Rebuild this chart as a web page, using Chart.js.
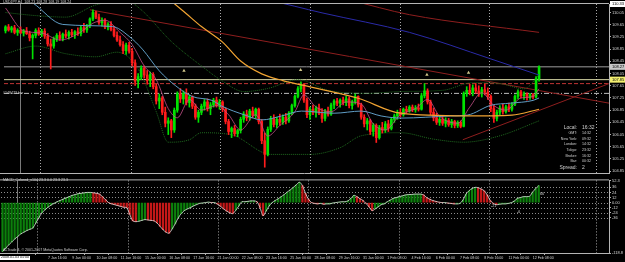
<!DOCTYPE html>
<html>
<head>
<meta charset="utf-8">
<title>USDJPY,H4</title>
<script src="https://cdn.jsdelivr.net/npm/chart.js"></script>
<style>
    body { margin: 0; background: #000; width: 625px; height: 262px; overflow: hidden; position: relative; font-family: 'Liberation Sans', Arial, sans-serif; }
    canvas { position: absolute; left: 0; }
    #main { top: 0; }
    #osc { top: 177px; }
    .t { position: absolute; color: #d0d0d0; font-size: 3.6px; line-height: 1; white-space: nowrap; }
    .big { font-size: 5px; }
    .lbl { right: 48px; text-align: right; }
    .val { left: 582px; }
    .box { background: #fff; color: #000; padding: 0 1px; }
</style>
</head>
<body>
<canvas id="main" width="625" height="177"></canvas>
<canvas id="osc" width="625" height="85"></canvas>

<div class="t" style="left:3px;top:1px">USDJPY,H4&nbsp; 108.23 108.28 108.19 108.24</div>
<div class="t" style="left:3px;top:92px">#148473 bar</div>

<div class="t big lbl" style="top:125px">Local:</div><div class="t big val" style="top:125px">16:32</div>
<div class="t lbl" style="top:132px">GMT:</div><div class="t val" style="top:132px">14:32</div>
<div class="t lbl" style="top:138px">New York:</div><div class="t val" style="top:138px">09:32</div>
<div class="t lbl" style="top:143px">London:</div><div class="t val" style="top:143px">14:32</div>
<div class="t lbl" style="top:149px">Tokyo:</div><div class="t val" style="top:149px">23:32</div>
<div class="t lbl" style="top:155px">Broker:</div><div class="t val" style="top:155px">16:32</div>
<div class="t lbl" style="top:160px">Bar:</div><div class="t val" style="top:160px">00:32</div>
<div class="t big lbl" style="top:165px">Spread:</div><div class="t big val" style="top:165px">2</div>

<div class="t" style="left:3px;top:179px">MACD_Colored_v104 23.3 0.0 23.3 23.3</div>
<div class="t" style="left:491px;top:205px">-21</div>
<div class="t" style="left:517px;top:211px">-6</div>
<div class="t" style="left:540px;top:193px">66</div>
<div class="t" style="left:3px;top:249px">ALTrade 4, © 2001-2007 MetaQuotes Software Corp.</div>
<div class="t box" style="left:0;top:256px">2008.01.03 05:00</div>

<script>
// H4 bars: [open, high, low, close]
const candles = [
    [109.45,109.62,109.38,109.58],[109.58,109.66,109.44,109.48],[109.48,109.60,109.40,109.55],[109.55,109.63,109.35,109.40],
    [109.40,109.52,109.30,109.47],[109.47,109.58,109.36,109.38],[109.38,109.50,109.28,109.45],[109.45,109.56,109.33,109.36],
    [109.36,109.44,109.12,109.22],[109.22,109.35,108.53,109.30],[109.30,109.52,109.22,109.46],[109.46,109.55,109.30,109.34],
    [109.34,109.50,109.26,109.44],[109.44,109.52,109.20,109.28],[109.28,109.36,108.95,109.02],[109.02,109.18,108.20,108.95],
    [108.95,109.25,108.88,109.18],[109.18,109.36,109.10,109.30],[109.30,109.42,109.14,109.20],[109.20,109.38,109.12,109.34],
    [109.34,109.48,109.22,109.28],[109.28,109.45,109.18,109.40],[109.40,109.50,109.26,109.32],[109.32,109.46,109.20,109.42],
    [109.42,109.55,109.30,109.36],[109.36,109.60,109.28,109.55],[109.55,109.70,109.40,109.48],[109.48,109.66,109.40,109.62],
    [109.62,109.88,109.55,109.84],[109.84,110.14,109.78,110.05],[110.05,110.10,109.85,109.90],[109.90,110.00,109.66,109.72],
    [109.72,109.88,109.60,109.80],[109.80,109.85,109.52,109.58],[109.58,109.72,109.48,109.66],[109.66,109.75,109.45,109.50],
    [109.50,109.60,109.25,109.30],[109.30,109.42,109.10,109.15],[109.15,109.28,108.95,109.00],[109.00,109.10,108.70,108.80],
    [108.80,109.05,108.68,108.98],[108.98,109.07,108.72,108.78],[108.78,108.88,108.30,108.40],[108.40,108.50,107.66,107.80],
    [107.80,108.05,107.58,107.95],[107.95,108.30,107.85,108.22],[108.22,108.30,107.90,108.00],[108.00,108.15,107.70,107.82],
    [107.82,108.10,107.62,108.02],[108.02,108.08,107.55,107.62],[107.62,107.70,107.05,107.15],[107.15,107.38,106.90,107.25],
    [107.25,107.30,106.70,106.78],[106.78,106.95,106.30,106.42],[106.42,106.60,106.05,106.50],[106.50,106.55,105.95,106.20],
    [106.20,106.92,106.12,106.85],[106.85,107.45,106.78,107.38],[107.38,107.56,107.10,107.22],[107.22,107.48,107.05,107.40],
    [107.40,107.55,107.02,107.10],[107.10,107.35,106.95,107.28],[107.28,107.32,106.90,106.98],[106.98,107.05,106.55,106.62],
    [106.62,106.85,106.45,106.78],[106.78,107.05,106.70,106.98],[106.98,107.20,106.85,107.12],[107.12,107.22,106.82,106.90],
    [106.90,107.10,106.70,107.02],[107.02,107.24,106.95,107.18],[107.18,107.28,106.95,107.00],[107.00,107.20,106.88,107.12],
    [107.12,107.16,106.80,106.88],[106.88,106.92,106.40,106.48],[106.48,106.55,106.05,106.15],[106.15,106.30,105.95,106.25],
    [106.25,106.35,106.00,106.08],[106.08,106.22,105.98,106.18],[106.18,106.62,106.10,106.55],[106.55,106.80,106.45,106.72],
    [106.72,106.85,106.50,106.60],[106.60,106.88,106.52,106.82],[106.82,106.95,106.60,106.68],[106.68,106.92,106.58,106.88],
    [106.88,106.92,106.40,106.48],[106.48,106.55,105.75,105.85],[105.85,106.10,104.98,105.40],[105.40,106.30,105.35,106.22],
    [106.22,106.65,106.15,106.58],[106.58,106.70,106.30,106.38],[106.38,106.62,106.27,106.55],[106.55,106.72,106.35,106.45],
    [106.45,106.70,106.38,106.62],[106.62,106.75,106.40,106.50],[106.50,106.80,106.45,106.75],[106.75,107.05,106.70,107.00],
    [107.00,107.35,106.95,107.30],[107.30,107.62,107.25,107.55],[107.55,107.78,107.45,107.70],[107.70,107.72,107.10,107.18],
    [107.18,107.25,106.60,106.70],[106.70,106.95,106.55,106.88],[106.88,107.02,106.70,106.78],[106.78,106.98,106.62,106.92],
    [106.92,107.05,106.70,106.75],[106.75,106.90,106.45,106.58],[106.58,106.88,106.50,106.82],[106.82,106.95,106.65,106.72],
    [106.72,107.08,106.68,107.02],[107.02,107.20,106.90,107.15],[107.15,107.24,107.00,107.08],[107.08,107.22,106.95,107.18],
    [107.18,107.28,107.02,107.10],[107.10,107.30,107.00,107.22],[107.22,107.28,106.92,107.00],[107.00,107.18,106.88,107.12],
    [107.12,107.38,107.05,107.30],[107.30,107.32,106.95,107.02],[107.02,107.08,106.55,106.62],[106.62,106.70,106.30,106.40],
    [106.40,106.58,106.20,106.50],[106.50,106.55,106.05,106.15],[106.15,106.42,106.00,106.35],[106.35,106.40,105.79,105.95],
    [105.95,106.35,105.90,106.28],[106.28,106.45,106.10,106.20],[106.20,106.48,106.12,106.40],[106.40,106.52,106.15,106.25],
    [106.25,106.60,106.20,106.55],[106.55,106.72,106.45,106.66],[106.66,106.85,106.55,106.78],[106.78,106.90,106.62,106.70],
    [106.70,106.92,106.65,106.88],[106.88,106.98,106.75,106.82],[106.82,107.00,106.78,106.95],[106.95,107.02,106.80,106.86],
    [106.86,107.00,106.78,106.92],[106.92,107.05,106.82,106.88],[106.88,107.40,106.85,107.32],[107.32,107.72,107.25,107.48],
    [107.48,107.55,107.05,107.12],[107.12,107.18,106.70,106.78],[106.78,106.92,106.50,106.60],[106.60,106.75,106.38,106.45],
    [106.45,106.62,106.35,106.55],[106.55,106.65,106.35,106.42],[106.42,106.60,106.30,106.52],[106.52,106.58,106.32,106.38],
    [106.38,106.55,106.28,106.48],[106.48,106.52,106.27,106.35],[106.35,106.50,106.28,106.45],[106.45,106.50,106.27,106.32],
    [106.32,107.45,106.30,107.40],[107.40,107.62,107.30,107.50],[107.50,107.70,107.35,107.42],[107.42,107.68,107.32,107.58],
    [107.58,107.72,107.40,107.48],[107.48,107.65,107.30,107.38],[107.38,107.60,107.28,107.52],[107.52,107.70,107.35,107.44],
    [107.44,107.58,107.20,107.30],[107.30,107.35,106.80,106.90],[106.90,107.00,106.45,106.58],[106.58,106.85,106.50,106.78],
    [106.78,107.00,106.70,106.92],[106.92,107.05,106.72,106.80],[106.80,107.02,106.75,106.96],[106.96,107.08,106.80,106.88],
    [106.88,107.10,106.82,107.05],[107.05,107.35,107.00,107.30],[107.30,107.52,107.22,107.45],[107.45,107.50,107.25,107.32],
    [107.32,107.45,107.20,107.38],[107.38,107.42,107.18,107.26],[107.26,107.40,107.20,107.35],[107.35,107.40,107.22,107.28],
    [107.28,107.95,107.24,107.88],[107.88,108.30,107.80,108.27]
];

// MACD histogram, one value per bar
const macdHist = [
    -115,-108,-100,-93,-86,-80,-74,-70,-66,-63,
    -60,-48,-36,-24,-17,-11,-6,-2,2,5,
    8,11,14,17,19,21,22,23,24,24,
    23,22,20,14,7,0,-3,-5,-7,-9,
    -11,-12,-28,-43,-45,-44,-42,-40,-41,-42,
    -43,-48,-56,-64,-70,-72,-62,-50,-36,-26,
    -19,-15,-12,-8,-5,-2,-1,0,1,0,
    0,-4,-9,-15,-20,-24,-26,-18,-8,2,
    2,3,4,4,2,-12,-31,-20,-8,0,
    5,9,14,19,25,30,36,42,48,40,
    22,8,0,-2,-3,-2,-4,-3,-3,-1,
    0,1,2,2,4,10,17,14,9,5,
    -2,-10,-19,-15,-10,-5,-3,2,6,10,
    12,14,16,18,19,19,20,20,20,18,
    12,8,5,3,1,0,0,-1,-2,-3,
    -3,-2,6,20,28,33,36,35,32,28,
    18,5,-2,-5,-4,-3,-3,-2,0,4,
    10,12,14,14,15,25,33,40
];

// indicator lines as [bar, price]
const orangeMA = [[50,110.90],[55,110.43],[60,110.01],[65,109.59],[72,109.08],[78,108.46],[85,108.04],[92,107.82],[99,107.66],[117,107.24],[131,106.75],[153,106.66],[168,106.69],[177,106.88]];
const navyMA = [[78,110.62],[87,110.46],[105,110.04],[134,109.40],[161,108.53],[177,108.00]];
const redMA = [[100,110.75],[114,110.46],[134,109.98],[177,109.40]];
const blueMA = [[5,110.60],[9,110.37],[19,109.66],[35.5,109.59],[41,109.27],[45.4,108.85],[51,108.14],[56.3,107.66],[61.9,107.30],[68.5,107.17],[71.8,106.98],[79.4,106.69],[85,106.53],[91.6,106.66],[98.2,106.82],[109,106.75],[118,106.82],[124.6,106.66],[131.2,106.59],[147.7,106.66],[153.3,106.69],[161,107.01],[167.5,107.08],[175,107.17],[177,107.25]];
const pinkMA = [[0,110.20],[6,109.45],[12,109.38],[18,109.15],[24,109.35],[29,109.70],[33,109.80],[38,109.40],[42,109.00],[46,108.30],[50,107.85],[54,106.90],[57,106.60],[61,107.20],[65,106.85],[70,107.00],[74,106.70],[78,106.20],[83,106.70],[87,106.00],[91,106.35],[96,106.80],[99,107.35],[103,106.95],[108,106.80],[113,107.12],[118,107.05],[122,106.40],[126,106.20],[131,106.70],[136,106.90],[140,107.20],[144,106.65],[150,106.42],[154,106.95],[158,107.42],[162,107.00],[166,106.85],[171,107.25],[175,107.30],[177,107.55]];
const upperBand = [[0,110.05],[10,109.95],[20,109.90],[30,110.30],[40,110.45],[45,110.14],[55,109.10],[65,108.30],[72,107.80],[79,107.46],[87,107.56],[97,107.85],[107,107.50],[120,107.40],[131,107.46],[145,107.50],[155,107.75],[164,107.72],[172,107.55],[177,108.00]];
const lowerBand = [[0,108.70],[10,108.95],[20,108.70],[30,108.60],[37,108.75],[44,108.20],[50,106.80],[54,105.80],[61,105.88],[65,106.11],[75,106.04],[88,105.40],[101,105.40],[111,105.62],[118,106.01],[131,106.11],[142,105.90],[152,105.80],[164,106.01],[177,106.50]];
const trendDown = [[28,110.14],[200.2,107.08]];
const trendUp = [[151.7,105.88],[200.2,107.72]];
const fractals = [[59.2,108.14],[97.9,108.17],[139.8,108.01],[153.6,108.08]];

// horizontal levels: bid, yellow, red dashed, grey dashed
const levels = [108.27, 107.85, 107.72, 107.40];
const boxValues = [110.33, 108.27, 107.85];
const separators = [11.5, 41.5, 71, 101, 131, 160.5, 196];
const solidMarks = [4.8];

const priceTicks = [104.85,105.25,105.65,106.05,106.45,106.85,107.25,107.65,108.05,108.45,108.85,109.25,109.65,110.05];
const macdTicks = [52.3, 36, 24, 12, 0, -12, -24, -36, -118.8];
const macdLevels = [36, 24, 12, 0, -12, -24, -36];
const timeTicks = [15,23,31,39,47,55,63,71,79,87,95,103,111,119,127,135,143,151,159,167,175];
const timeLabels = ['7 Jan 16:00','9 Jan 00:00','10 Jan 08:00','11 Jan 16:00','15 Jan 00:00','16 Jan 08:00','17 Jan 16:00',
    '21 Jan 00:00','22 Jan 08:00','23 Jan 16:00','25 Jan 00:00','28 Jan 08:00','29 Jan 16:00','31 Jan 00:00',
    '1 Feb 08:00','4 Feb 16:00','6 Feb 00:00','7 Feb 08:00','8 Feb 16:00','11 Feb 00:00','12 Feb 08:00'];

const X_MIN = -0.5, X_MAX = 200.2;
const BULL = '#00e400', BEAR = '#ff1c1c';
const tickFont = {family: 'Liberation Sans', size: 4};

const pts = arr => arr.map(p => ({x: p[0], y: p[1]}));
const lineDs = (arr, color, extra) => Object.assign({
    type: 'line', data: pts(arr), borderColor: color, borderWidth: 1,
    pointRadius: 0, cubicInterpolationMode: 'monotone', order: 3
}, extra || {});
const flatLine = (v, color, extra) => lineDs([[X_MIN, v], [X_MAX, v]], color,
    Object.assign({order: 10, cubicInterpolationMode: 'default'}, extra || {}));

// separators, borders, price boxes
const panelPlugin = {
    id: 'panel',
    beforeDatasetsDraw(chart) {
        const {ctx, chartArea: a, scales} = chart;
        ctx.save();
        ctx.lineWidth = 1;
        ctx.strokeStyle = '#a8a8a8';
        ctx.setLineDash([1, 2]);
        separators.forEach(v => {
            const x = Math.round(scales.x.getPixelForValue(v)) + 0.5;
            ctx.beginPath(); ctx.moveTo(x, a.top); ctx.lineTo(x, a.bottom); ctx.stroke();
        });
        if (chart.canvas.id === 'osc') {
            ctx.strokeStyle = '#8c8c8c';
            macdLevels.forEach(v => {
                const y = Math.round(scales.y.getPixelForValue(v)) + 0.5;
                ctx.beginPath(); ctx.moveTo(a.left, y); ctx.lineTo(a.right, y); ctx.stroke();
            });
        }
        ctx.setLineDash([]);
        ctx.strokeStyle = '#7a7a7a';
        solidMarks.forEach(v => {
            const x = Math.round(scales.x.getPixelForValue(v)) + 0.5;
            ctx.beginPath(); ctx.moveTo(x, a.top); ctx.lineTo(x, a.bottom); ctx.stroke();
        });
        ctx.restore();
    },
    afterDraw(chart) {
        const {ctx, chartArea: a, scales} = chart;
        ctx.save();
        ctx.strokeStyle = '#b4b4b4';
        ctx.lineWidth = 1;
        ctx.beginPath();
        ctx.moveTo(0, a.top - 0.5); ctx.lineTo(a.right, a.top - 0.5);
        ctx.moveTo(0, a.bottom + 0.5); ctx.lineTo(a.right, a.bottom + 0.5);
        ctx.stroke();
        if (chart.canvas.id === 'main') {
            const fills = ['#ffffff', '#c8c8c8', '#f4f070'];
            ctx.font = '4px "Liberation Sans"';
            ctx.textBaseline = 'middle';
            boxValues.forEach((v, i) => {
                const y = Math.max(scales.y.getPixelForValue(v), 3);
                ctx.fillStyle = fills[i];
                ctx.fillRect(a.right + 1, y - 3, 625 - a.right, 6);
                ctx.fillStyle = '#000';
                ctx.fillText(v.toFixed(2), a.right + 3, y);
            });
        }
        ctx.restore();
    }
};

const mainDatasets = [
    flatLine(levels[0], '#9c9c9c'),
    flatLine(levels[1], '#d6d6a4'),
    flatLine(levels[2], '#c03434', {borderDash: [4, 2]}),
    flatLine(levels[3], '#bdbdbd', {borderDash: [5, 2, 1, 2]}),
    lineDs(trendDown, '#8e1e1e', {order: 9, cubicInterpolationMode: 'default'}),
    lineDs(trendUp, '#8e1e1e', {order: 9, cubicInterpolationMode: 'default'}),
    lineDs(upperBand, '#1f6a1f', {order: 8, borderDash: [1, 1]}),
    lineDs(lowerBand, '#1f6a1f', {order: 8, borderDash: [1, 1]}),
    {
        type: 'bar', order: 6, grouped: false, barThickness: 1,
        data: candles.map((c, i) => ({x: i, y: [c[2], c[1]]})),
        backgroundColor: candles.map(c => c[3] >= c[0] ? BULL : BEAR)
    },
    {
        type: 'bar', order: 5, grouped: false, barThickness: 2,
        data: candles.map((c, i) => ({x: i, y: [Math.min(c[0], c[3]), Math.max(c[0], c[3])]})),
        backgroundColor: candles.map(c => c[3] >= c[0] ? BULL : BEAR)
    },
    lineDs(orangeMA, '#f2a432', {borderWidth: 1.2}),
    lineDs(navyMA, '#2a2aa8'),
    lineDs(redMA, '#8e1e1e'),
    lineDs(blueMA, '#5f9cc4'),
    lineDs(pinkMA, '#c24f86', {borderWidth: 0.8}),
    {
        type: 'line', order: 1, showLine: false, data: pts(fractals),
        pointStyle: 'triangle', pointRadius: 2, backgroundColor: '#cfc58a', borderColor: '#cfc58a', borderWidth: 0
    }
];

new Chart(document.getElementById('main'), {
    type: 'bar',
    data: {datasets: mainDatasets},
    plugins: [panelPlugin],
    options: {
        responsive: false, animation: false, devicePixelRatio: 1, events: [],
        layout: {padding: {left: 1, top: 4, right: 0, bottom: 1}},
        plugins: {legend: {display: false}, tooltip: {enabled: false}},
        scales: {
            x: {type: 'linear', min: X_MIN, max: X_MAX, offset: false, display: false},
            y: {
                position: 'right', min: 104.79, max: 110.33,
                afterFit: s => { s.width = 16; },
                afterBuildTicks: s => { s.ticks = priceTicks.map(v => ({value: v})); },
                ticks: {font: tickFont, color: '#d4d4d4', padding: 1, callback: v => v.toFixed(2)},
                grid: {drawOnChartArea: false, tickLength: 2, color: '#b0b0b0'},
                border: {display: true, color: '#b4b4b4'}
            }
        }
    }
});

new Chart(document.getElementById('osc'), {
    type: 'bar',
    data: {
        datasets: [
            {
                type: 'bar', order: 2, grouped: false, barThickness: 1.6,
                data: macdHist.map((v, i) => ({x: i, y: v})),
                backgroundColor: macdHist.map((v, i) => (i === 0 || v >= macdHist[i - 1]) ? '#0c800c' : '#c41818')
            },
            {
                type: 'line', order: 1, data: macdHist.map((v, i) => ({x: i, y: v})),
                borderColor: '#e6e6e6', borderWidth: 0.8, pointRadius: 0, tension: 0.3
            }
        ]
    },
    plugins: [panelPlugin],
    options: {
        responsive: false, animation: false, devicePixelRatio: 1, events: [],
        layout: {padding: {left: 1, top: 1, right: 0, bottom: 0}},
        plugins: {legend: {display: false}, tooltip: {enabled: false}},
        scales: {
            x: {
                type: 'linear', min: X_MIN, max: X_MAX, offset: false,
                afterFit: s => { s.height = 9; },
                afterBuildTicks: s => { s.ticks = timeTicks.map(v => ({value: v})); },
                ticks: {
                    font: {family: 'Liberation Sans', size: 3.6}, color: '#d4d4d4', padding: 1,
                    align: 'start', maxRotation: 0, autoSkip: false,
                    callback: v => timeLabels[timeTicks.indexOf(v)]
                },
                grid: {drawOnChartArea: false, tickLength: 2, color: '#b0b0b0'},
                border: {display: false}
            },
            y: {
                position: 'right', min: -118.8, max: 52.3,
                afterFit: s => { s.width = 16; },
                afterBuildTicks: s => { s.ticks = macdTicks.map(v => ({value: v})); },
                ticks: {font: tickFont, color: '#d4d4d4', padding: 1, callback: v => v === 0 ? '0.00' : String(v)},
                grid: {drawOnChartArea: false, tickLength: 2, color: '#b0b0b0'},
                border: {display: true, color: '#b4b4b4'}
            }
        }
    }
});
</script>
</body>
</html>
